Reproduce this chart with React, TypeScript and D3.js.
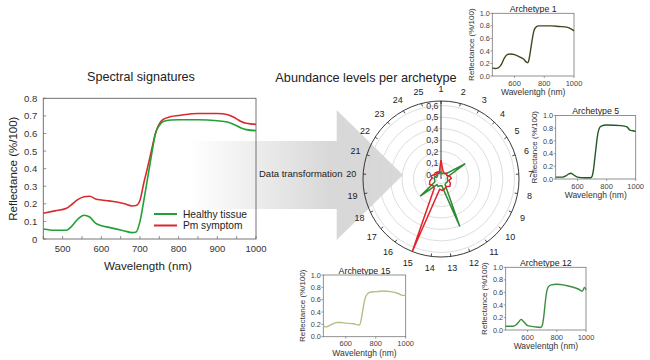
import React from "react";
import * as d3 from "d3";

const FONT = "'Liberation Sans', Arial, sans-serif";

// Main spectral signatures
const WL = [450, 480, 510, 520, 540, 555, 570, 585, 600, 620, 640, 660, 680, 690, 700, 710, 720, 730, 740, 750, 760, 780, 800, 850, 900, 925, 940, 960, 975, 1000];
const HEALTHY = [0.057, 0.05, 0.05, 0.065, 0.115, 0.135, 0.125, 0.09, 0.076, 0.066, 0.056, 0.046, 0.036, 0.04, 0.1, 0.22, 0.35, 0.48, 0.6, 0.645, 0.668, 0.677, 0.678, 0.678, 0.672, 0.665, 0.654, 0.633, 0.622, 0.616];
const PM = [0.146, 0.16, 0.175, 0.19, 0.225, 0.24, 0.243, 0.228, 0.222, 0.217, 0.21, 0.2, 0.188, 0.19, 0.22, 0.32, 0.41, 0.506, 0.6, 0.655, 0.68, 0.696, 0.702, 0.714, 0.714, 0.708, 0.695, 0.67, 0.658, 0.652];
const MAIN_YTICKS = [0, 0.1, 0.2, 0.3, 0.4, 0.5, 0.6, 0.7, 0.8];
const MAIN_XTICKS = [500, 600, 700, 800, 900, 1000];
const LEGEND = ["Healthy tissue", "Pm symptom"];

// Radar
const SPOKES = d3.range(1, 26);
const RED_ABUND = [0.125, 0.03, 0.02, 0.03, 0.02, 0.04, 0.05, 0.03, 0.05, 0.06, 0.04, 0.05, 0.06, 0.05, 0.64, 0.06, 0.05, 0.07, 0.06, 0.04, 0.05, 0.03, 0.02, 0.03, 0.02];
const GREEN_ABUND = [0.02, 0.01, 0.015, 0.02, 0.21, 0.02, 0.015, 0.02, 0.02, 0.015, 0.02, 0.405, 0.02, 0.02, 0.03, 0.02, 0.194, 0.02, 0.015, 0.02, 0.015, 0.01, 0.01, 0.015, 0.01];
const RADIAL_TICKS = [0, 0.1, 0.2, 0.3, 0.4, 0.5, 0.6];

// Insets
const A1_WL = [450, 470, 490, 510, 530, 550, 570, 600, 630, 660, 680, 690, 700, 710, 720, 730, 740, 760, 800, 850, 900, 950, 980, 1000];
const A1 = [0.13, 0.12, 0.13, 0.18, 0.28, 0.34, 0.35, 0.34, 0.31, 0.27, 0.22, 0.21, 0.3, 0.45, 0.6, 0.72, 0.77, 0.8, 0.8, 0.8, 0.79, 0.78, 0.75, 0.72];
const A5_WL = [450, 500, 520, 540, 555, 570, 600, 650, 690, 700, 710, 720, 730, 740, 760, 800, 900, 940, 960, 980, 1000];
const A5 = [0.03, 0.03, 0.05, 0.08, 0.09, 0.07, 0.03, 0.02, 0.02, 0.04, 0.15, 0.35, 0.55, 0.72, 0.83, 0.85, 0.84, 0.82, 0.77, 0.76, 0.75];
const A12_WL = [450, 500, 520, 540, 555, 570, 600, 650, 690, 700, 710, 720, 730, 740, 760, 800, 900, 950, 975, 990, 1000];
const A12 = [0.06, 0.06, 0.08, 0.13, 0.17, 0.14, 0.07, 0.05, 0.04, 0.07, 0.2, 0.42, 0.6, 0.68, 0.72, 0.73, 0.69, 0.65, 0.62, 0.68, 0.64];
const A15_WL = [450, 470, 500, 540, 570, 600, 650, 690, 700, 710, 720, 730, 740, 760, 800, 850, 900, 950, 980, 1000];
const A15 = [0.17, 0.16, 0.19, 0.23, 0.23, 0.22, 0.21, 0.19, 0.24, 0.38, 0.52, 0.63, 0.68, 0.72, 0.73, 0.74, 0.73, 0.7, 0.67, 0.67];
const INSET_YTICKS = [0, 0.2, 0.4, 0.6, 0.8, 1.0];
const INSET_XTICKS = [600, 800, 1000];

function Inset(props: { x: number; y: number; w: number; h: number; title: string; xlabel: string; wl: number[]; vals: number[]; color: string }) {
  const { x, y, w, h, title, xlabel, wl, vals, color } = props;
  const sx = d3.scaleLinear().domain([450, 1000]).range([x, x + w]);
  const sy = d3.scaleLinear().domain([0, 1]).range([y + h, y]);
  const line = d3.line<number>().x((_, i) => sx(wl[i])).y((d) => sy(d)).curve(d3.curveMonotoneX);
  return (
    <g fontFamily={FONT}>
      <text x={x + w / 2} y={y - 1.5} textAnchor="middle" fontSize={8.8} fill="#222">{title}</text>
      <rect x={x} y={y} width={w} height={h} fill="white" stroke="#777" strokeWidth={0.8} />
      <path d={line(vals) || ""} fill="none" stroke={color} strokeWidth={1.4} />
      {INSET_YTICKS.map((t) => (
        <g key={t}>
          <line x1={x} x2={x - 2} y1={sy(t)} y2={sy(t)} stroke="#777" strokeWidth={0.7} />
          <text x={x - 2.5} y={sy(t) + 2.6} textAnchor="end" fontSize={7.3} fill="#444">{t.toFixed(1)}</text>
        </g>
      ))}
      {INSET_XTICKS.map((t) => (
        <g key={t}>
          <line x1={sx(t)} x2={sx(t)} y1={y + h} y2={y + h + 2} stroke="#777" strokeWidth={0.7} />
          <text x={sx(t)} y={y + h + 9.5} textAnchor="middle" fontSize={7.5} fill="#444">{t}</text>
        </g>
      ))}
      <text x={x + w / 2} y={y + h + 19} textAnchor="middle" fontSize={8.5} fill="#333">{xlabel}</text>
      <text transform={`translate(${x - 18.5},${y + h / 2}) rotate(-90)`} textAnchor="middle" fontSize={8} fill="#333">Reflectance (%/100)</text>
    </g>
  );
}

export default function App() {
  // Main chart
  const L = 43.3, R = 256, T = 98.3, B = 239;
  const x = d3.scaleLinear().domain([450, 1000]).range([L, R]);
  const y = d3.scaleLinear().domain([0, 0.8]).range([B, T]);
  const line = d3.line<number>().x((_, i) => x(WL[i])).y((d) => y(d)).curve(d3.curveMonotoneX);
  const minor = d3.range(450, 1001, 50);

  // Radar
  const cx = 441, cy = 179, rOut = 78;
  const rs = d3.scaleLinear().domain([-0.04, 0.64]).range([0, rOut]);
  const ang = (i: number) => (i * 2 * Math.PI) / SPOKES.length;
  const radial = d3.lineRadial<number>().angle((_, i) => ang(i)).radius((d) => rs(d)).curve(d3.curveLinearClosed);
  const pt = (i: number, r: number) => [cx + r * Math.sin(ang(i)), cy - r * Math.cos(ang(i))];

  return (
    <svg width={650} height={360} style={{ position: "absolute", left: 0, top: 0, background: "white" }} fontFamily={FONT}>
      <defs>
        <linearGradient id="arrowGrad" gradientUnits="userSpaceOnUse" x1={190} y1={0} x2={330} y2={0}>
          <stop offset="0" stopColor="#d8d8d8" stopOpacity={0} />
          <stop offset="1" stopColor="#d8d8d8" stopOpacity={1} />
        </linearGradient>
      </defs>
      {/* Arrow */}
      <path d={`M190,141 L336.7,141 L336.7,110 L403,175 L336.7,240 L336.7,209 L190,209 Z`} fill="url(#arrowGrad)" />
      <text x={259} y={177} fontSize={9.5} fill="#222">Data transformation</text>

      {/* Main chart */}
      <text x={141} y={80.5} textAnchor="middle" fontSize={12.6} fill="#222">Spectral signatures</text>
      <rect x={L} y={T} width={R - L} height={B - T} fill="none" stroke="#666" strokeWidth={0.9} />
      {minor.map((t) => (
        <line key={t} x1={x(t)} x2={x(t)} y1={B} y2={B - 3} stroke="#666" strokeWidth={0.7} />
      ))}
      {MAIN_XTICKS.map((t) => (
        <text key={t} x={x(t)} y={B + 13} textAnchor="middle" fontSize={9.5} fill="#333">{t}</text>
      ))}
      {MAIN_YTICKS.map((t) => (
        <g key={t}>
          <line x1={L} x2={L + 3} y1={y(t)} y2={y(t)} stroke="#666" strokeWidth={0.7} />
          <text x={L - 6} y={y(t) + 3.5} textAnchor="end" fontSize={9.5} fill="#333">{t === 0 ? "0" : t.toFixed(1)}</text>
        </g>
      ))}
      <text x={148} y={269.5} textAnchor="middle" fontSize={11.6} fill="#222">Wavelength (nm)</text>
      <text transform={`translate(17,${(T + B) / 2}) rotate(-90)`} textAnchor="middle" fontSize={11.5} fill="#222">Reflectance (%/100)</text>
      <path d={line(PM) || ""} fill="none" stroke="#d62a2e" strokeWidth={1.6} />
      <path d={line(HEALTHY) || ""} fill="none" stroke="#22a036" strokeWidth={1.6} />
      {LEGEND.map((s, i) => (
        <g key={s}>
          <line x1={154} x2={177} y1={214 + i * 11.5} y2={214 + i * 11.5} stroke={i === 0 ? "#22a036" : "#d62a2e"} strokeWidth={2} />
          <text x={183} y={217.8 + i * 11.5} fontSize={10.2} fill="#222">{s}</text>
        </g>
      ))}

      {/* Radar */}
      <text x={366} y={82} textAnchor="middle" fontSize={12.7} fill="#222">Abundance levels per archetype</text>
      {RADIAL_TICKS.map((t) => (
        <circle key={t} cx={cx} cy={cy} r={rs(t)} fill="none" stroke="#d4d4d4" strokeWidth={0.8} />
      ))}
      <circle cx={cx} cy={cy} r={rOut} fill="none" stroke="#222" strokeWidth={0.9} />
      {SPOKES.map((s, i) => {
        const [x1, y1] = pt(i, rOut);
        const [x2, y2] = pt(i, rOut - 3);
        const [lx, ly] = pt(i, rOut + 12);
        return (
          <g key={s}>
            <line x1={x1} y1={y1} x2={x2} y2={y2} stroke="#222" strokeWidth={0.8} />
            <text x={lx} y={ly + 3.2} textAnchor="middle" fontSize={9} fill="#222">{s}</text>
          </g>
        );
      })}
      <line x1={cx} x2={cx} y1={cy} y2={cy - rOut} stroke="#222" strokeWidth={0.9} />
      {RADIAL_TICKS.map((t) => (
        <text key={t} x={cx - 2.5} y={cy - rs(t) + 3.2} textAnchor="end" fontSize={8.8} fill="#333">{t.toFixed(1).replace(".", ",")}</text>
      ))}
      <path transform={`translate(${cx},${cy})`} d={radial(GREEN_ABUND) || ""} fill="none" stroke="#2e8b34" strokeWidth={1.5} strokeLinejoin="miter" />
      <path transform={`translate(${cx},${cy})`} d={radial(RED_ABUND) || ""} fill="none" stroke="#e3222a" strokeWidth={1.5} strokeLinejoin="miter" />

      {/* Insets */}
      <Inset x={492.3} y={13.3} w={81.7} h={62.7} title="Archetype 1" xlabel="Wavelentgh (nm)" wl={A1_WL} vals={A1} color="#3c4a22" />
      <Inset x={555.7} y={115.5} w={80} h={63.5} title="Archetype 5" xlabel="Wavelengh (nm)" wl={A5_WL} vals={A5} color="#1f5a25" />
      <Inset x={505.7} y={267.3} w={80.3} h={62.7} title="Archetype 12" xlabel="Wavelentgh (nm)" wl={A12_WL} vals={A12} color="#3a8f3e" />
      <Inset x={323.3} y={275} w={82.4} h={61.7} title="Archetype 15" xlabel="Wavelentgh (nm)" wl={A15_WL} vals={A15} color="#b9bd86" />
    </svg>
  );
}
